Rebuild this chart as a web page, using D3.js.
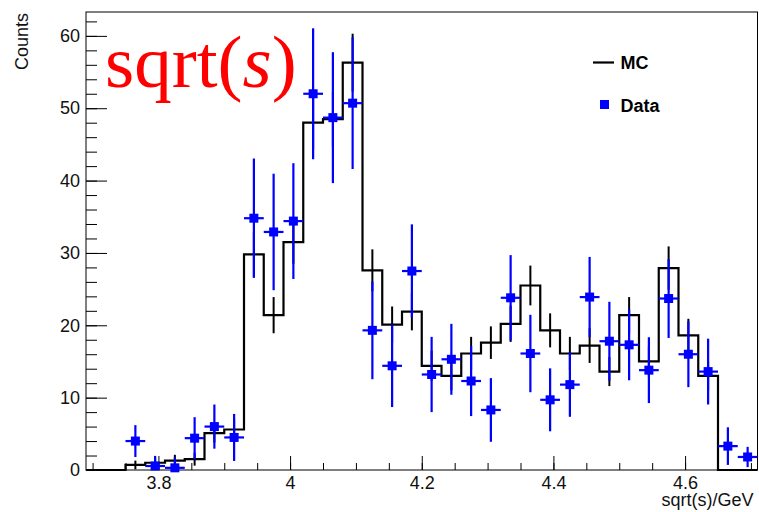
<!DOCTYPE html>
<html>
<head>
<meta charset="utf-8">
<script src="https://cdn.jsdelivr.net/npm/d3@7/dist/d3.min.js"></script>
<style>
  html, body { margin: 0; padding: 0; background: #fff; }
  svg { display: block; }
</style>
</head>
<body>
<svg id="chart" width="759" height="512"></svg>
<script>
// ---- Data ----
const binCenters = [3.705, 3.735, 3.765, 3.795, 3.825, 3.855, 3.885, 3.915, 3.945, 3.975,
                    4.005, 4.035, 4.065, 4.095, 4.125, 4.155, 4.185, 4.215, 4.245, 4.275,
                    4.305, 4.335, 4.365, 4.395, 4.425, 4.455, 4.485, 4.515, 4.545, 4.575,
                    4.605, 4.635, 4.665, 4.695];
const binWidth = 0.03;
const mcValues = [0, 0, 0.7, 1.0, 1.3, 1.5, 5.1, 5.6, 29.8, 21.4,
                  31.5, 48.0, 48.5, 56.3, 27.6, 20.1, 21.9, 14.4, 13.0, 16.1,
                  17.6, 20.2, 25.5, 19.3, 16.1, 17.2, 13.6, 21.4, 15.0, 27.9,
                  18.6, 13.0, 0, 0];
const mcErrors = [0, 0, 0.6, 0.7, 0.8, 0.9, 1.3, 1.4, 3.1, 2.5,
                  3.0, 3.7, 3.8, 4.0, 2.9, 2.5, 2.6, 2.1, 2.0, 2.3,
                  2.25, 2.5, 2.75, 2.35, 2.3, 2.4, 2.0, 2.5, 2.1, 3.0,
                  2.3, 2.0, 0, 0];
const dataValues = [null, null, 4.0, 0.55, 0.3, 4.4, 6.0, 4.5, 34.8, 32.9,
                    34.4, 52.0, 48.7, 50.7, 19.3, 14.4, 27.5, 13.2, 15.3, 12.3,
                    8.3, 23.8, 16.1, 9.7, 11.8, 23.9, 17.8, 17.3, 13.8, 23.7,
                    16.0, 13.6, 3.3, 1.8];
const dataErrors = [null, null, 2.2, 1.4, 1.45, 2.9, 3.05, 3.25, 8.25, 8.05,
                    8.0, 9.05, 9.05, 9.1, 6.75, 5.7, 6.45, 5.2, 4.9, 4.85,
                    4.4, 5.9, 5.35, 4.35, 4.45, 5.55, 5.45, 4.9, 4.55, 5.45,
                    4.55, 4.55, 2.6, 1.4];

const xDomain = [3.69, 4.71];
const yDomain = [0, 63.3];
const xMajorTicks = [3.8, 4.0, 4.2, 4.4, 4.6];
const xMajorLabels = ["3.8", "4", "4.2", "4.4", "4.6"];
const xMinorTicks = [3.70, 3.75, 3.80, 3.85, 3.90, 3.95, 4.00, 4.05, 4.10, 4.15, 4.20,
                     4.25, 4.30, 4.35, 4.40, 4.45, 4.50, 4.55, 4.60, 4.65, 4.70];
const yMajorTicks = [0, 10, 20, 30, 40, 50, 60];
const yMinorTicks = [0, 2, 4, 6, 8, 10, 12, 14, 16, 18, 20, 22, 24, 26, 28, 30,
                     32, 34, 36, 38, 40, 42, 44, 46, 48, 50, 52, 54, 56, 58, 60, 62];
const legendLabels = ["MC", "Data"];
const xTitle = "sqrt(s)/GeV";
const yTitle = "Counts";

// ---- Layout ----
const W = 759, H = 512;
const frame = { left: 86, right: 757.5, top: 12, bottom: 470 };
const FONT = "'Liberation Sans', Arial, Helvetica, sans-serif";

const svg = d3.select("#chart");
const x = d3.scaleLinear().domain(xDomain).range([frame.left, frame.right]);
const y = d3.scaleLinear().domain(yDomain).range([frame.bottom, frame.top]);
const clampY = v => Math.max(yDomain[0], Math.min(yDomain[1], v));

// ---- Axes ----
const yAxisMajor = d3.axisLeft(y).tickValues(yMajorTicks).tickSizeInner(-21).tickSizeOuter(0)
  .tickPadding(6).tickFormat(d3.format("d"));
const yAxisMinor = d3.axisLeft(y).tickValues(yMinorTicks).tickSizeInner(-11).tickSizeOuter(0)
  .tickFormat("");
const xAxisMajor = d3.axisBottom(x).tickValues(xMajorTicks).tickSizeInner(-14).tickSizeOuter(0)
  .tickPadding(6).tickFormat((d, i) => xMajorLabels[i]);
const xAxisMinor = d3.axisBottom(x).tickValues(xMinorTicks).tickSizeInner(-7).tickSizeOuter(0)
  .tickFormat("");

function styleAxis(g) {
  g.select(".domain").remove();
  g.selectAll("line").attr("stroke", "#000").attr("stroke-width", 1);
  g.selectAll("text").attr("fill", "#111").style("font-family", FONT).style("font-size", "18px");
}

svg.append("g").attr("transform", `translate(${frame.left},0)`).call(yAxisMinor).call(styleAxis);
svg.append("g").attr("transform", `translate(${frame.left},0)`).call(yAxisMajor).call(styleAxis);
svg.append("g").attr("transform", `translate(0,${frame.bottom})`).call(xAxisMinor).call(styleAxis);
svg.append("g").attr("transform", `translate(0,${frame.bottom})`).call(xAxisMajor).call(styleAxis);

// Frame
svg.append("rect")
  .attr("x", frame.left).attr("y", frame.top)
  .attr("width", frame.right - frame.left).attr("height", frame.bottom - frame.top)
  .attr("fill", "none").attr("stroke", "#000").attr("stroke-width", 1);

// Axis titles
svg.append("text")
  .attr("x", frame.right - 4).attr("y", 506)
  .attr("text-anchor", "end")
  .style("font-family", FONT).style("font-size", "18px").attr("fill", "#111")
  .text(xTitle);
svg.append("text")
  .attr("transform", `translate(27.5,${frame.top + 1}) rotate(-90)`)
  .attr("text-anchor", "end")
  .style("font-family", FONT).style("font-size", "18px").attr("fill", "#111")
  .text(yTitle);

// ---- MC histogram (step outline) ----
const bins = binCenters.map((c, i) => ({
  lo: c - binWidth / 2, hi: c + binWidth / 2, c,
  mc: mcValues[i], mcErr: mcErrors[i], d: dataValues[i], dErr: dataErrors[i]
}));

let pathD = `M${x(bins[0].lo)},${y(0)}`;
bins.forEach(b => {
  pathD += `L${x(b.lo)},${y(b.mc)}L${x(b.hi)},${y(b.mc)}`;
});
pathD += `L${x(bins[bins.length - 1].hi)},${y(0)}`;

svg.append("path")
  .attr("d", pathD)
  .attr("fill", "none").attr("stroke", "#000").attr("stroke-width", 2.2)
  .attr("stroke-linejoin", "miter");

// MC error bars
svg.append("g").selectAll("line")
  .data(bins.filter(b => b.mcErr > 0))
  .join("line")
  .attr("x1", b => x(b.c)).attr("x2", b => x(b.c))
  .attr("y1", b => y(clampY(b.mc - b.mcErr))).attr("y2", b => y(clampY(b.mc + b.mcErr)))
  .attr("stroke", "#000").attr("stroke-width", 2);

// ---- Data points ----
const dataBins = bins.filter(b => b.d !== null);
const gData = svg.append("g");
gData.selectAll("line.v")
  .data(dataBins).join("line").attr("class", "v")
  .attr("x1", b => x(b.c)).attr("x2", b => x(b.c))
  .attr("y1", b => y(clampY(b.d - b.dErr))).attr("y2", b => y(clampY(b.d + b.dErr)))
  .attr("stroke", "#0000ff").attr("stroke-width", 2.2);
gData.selectAll("line.h")
  .data(dataBins).join("line").attr("class", "h")
  .attr("x1", b => x(b.lo)).attr("x2", b => x(b.hi))
  .attr("y1", b => y(b.d)).attr("y2", b => y(b.d))
  .attr("stroke", "#0000ff").attr("stroke-width", 2.2);
const ms = 9;
gData.selectAll("rect")
  .data(dataBins).join("rect")
  .attr("x", b => x(b.c) - ms / 2).attr("y", b => y(b.d) - ms / 2)
  .attr("width", ms).attr("height", ms)
  .attr("fill", "#0000ff");

// ---- Legend ----
const lg = svg.append("g").style("font-family", FONT).style("font-size", "18px").style("font-weight", "bold");
lg.append("line").attr("x1", 593).attr("x2", 614).attr("y1", 62.5).attr("y2", 62.5)
  .attr("stroke", "#000").attr("stroke-width", 2.2);
lg.append("text").attr("x", 620.5).attr("y", 68.5).attr("fill", "#000").text(legendLabels[0]);
lg.append("rect").attr("x", 600).attr("y", 100).attr("width", 9).attr("height", 9).attr("fill", "#0000ff");
lg.append("text").attr("x", 620.5).attr("y", 111.5).attr("fill", "#000").text(legendLabels[1]);

// ---- Big red title ----
const title = svg.append("text")
  .attr("x", 105).attr("y", 87)
  .style("font-family", "'Liberation Serif', 'Times New Roman', Times, serif")
  .style("font-size", "75px").attr("fill", "#ff0000");
title.append("tspan").text("sqrt(");
title.append("tspan").style("font-style", "italic").text("s");
title.append("tspan").text(")");
</script>
</body>
</html>
